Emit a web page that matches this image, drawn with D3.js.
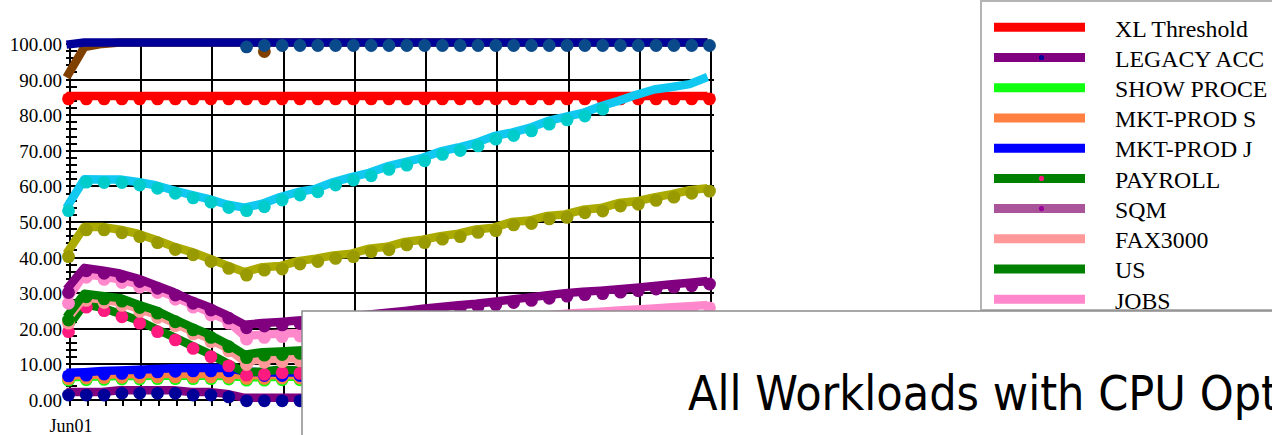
<!DOCTYPE html>
<html>
<head>
<meta charset="utf-8">
<script src="https://cdn.jsdelivr.net/npm/d3@7/dist/d3.min.js"></script>
<style>
  html, body { margin: 0; padding: 0; background: #fff; }
  svg { display: block; }
</style>
</head>
<body>
<svg id="chart" width="1272" height="435"></svg>
<script>
// ---- data -------------------------------------------------------------
const dayCount = 37;                 // Jun01 .. Jul07, one point per day
const xTickLabels = ["Jun01"];       // only the first day is labelled
const yTickValues = [0, 10, 20, 30, 40, 50, 60, 70, 80, 90, 100];
const chartTitle = "All Workloads with CPU Opt";

const legendNames = ["XL Threshold", "LEGACY ACC", "SHOW PROCE", "MKT-PROD S", "MKT-PROD J",
                     "PAYROLL", "SQM", "FAX3000", "US", "JOBS"];

const xlThreshold = [85, 85, 85, 85, 85, 85, 85, 85, 85, 85, 85, 85, 85, 85, 85, 85, 85, 85, 85,
                     85, 85, 85, 85, 85, 85, 85, 85, 85, 85, 85, 85, 85, 85, 85, 85, 85, 85];
const legacyAcc = [1.8, 1.8, 1.8, 2.3, 2.3, 2.3, 2.3, 1.8, 1.8, 1.3, 0.2, 0.2, 0.2, 0.2, 0.2];
const showProce = [6.0, 6.1, 6.2, 6.3, 6.3, 6.4, 6.4, 6.4, 6.4, 6.3, 6.0, 6.0, 6.1, 6.1, 6.1];
const mktProdS  = [6.4, 6.6, 6.7, 6.8, 6.8, 6.9, 6.9, 6.9, 6.9, 6.8, 6.5, 6.5, 6.6, 6.6, 6.6];
const mktProdJ  = [7.2, 7.4, 7.7, 7.9, 8.1, 8.3, 8.5, 8.6, 8.6, 8.6, 7.6, 7.3, 7.3, 7.3, 7.3];
const payroll   = [19.6, 26.5, 25.5, 23.8, 22.0, 19.6, 17.3, 14.9, 12.6, 10.0, 7.4, 7.6, 8.1, 7.9, 8.0];
const sqm       = [];
const fax3000   = [22.0, 28.4, 27.8, 27.0, 25.3, 23.6, 21.3, 19.0, 16.8, 14.2, 10.4, 11.0, 11.2, 11.4, 11.6];
const us        = [22.9, 29.4, 28.8, 28.2, 26.4, 24.8, 22.4, 20.1, 18.0, 15.4, 12.3, 13.0, 13.2, 13.5, 13.7];
const jobs      = [27.6, 34.9, 34.3, 33.4, 32.1, 30.6, 28.7, 26.5, 24.3, 22.0, 17.5, 18.0, 18.2, 18.4,
                   18.8, 19.2, 19.5, 19.9, 20.2, 20.6, 21.0, 21.3, 21.7, 22.0, 22.4, 22.7, 23.1, 23.4,
                   23.8, 24.1, 24.4, 24.7, 25.0, 25.3, 25.6, 25.9, 26.3];
// workloads whose legend rows fall outside the legend box
const purpleLoad = [30.6, 36.7, 36.0, 35.1, 33.7, 31.8, 29.9, 27.6, 25.7, 23.4, 20.7, 21.2, 21.5, 21.9,
                    22.2, 22.6, 23.1, 23.6, 24.1, 24.6, 25.2, 25.7, 26.2, 26.6, 27.2, 27.8, 28.4, 29.0,
                    29.6, 30.0, 30.3, 30.7, 31.1, 31.6, 32.1, 32.5, 33.0];
const oliveLoad = [40.7, 48.2, 48.2, 47.4, 46.3, 44.6, 42.7, 41.2, 39.3, 37.4, 35.5, 36.9, 37.2, 38.6,
                   39.3, 40.2, 40.7, 42.1, 42.6, 44.0, 44.6, 45.6, 46.3, 47.5, 48.0, 49.6, 50.0, 51.3,
                   51.7, 53.0, 53.5, 54.9, 55.4, 56.5, 57.4, 58.5, 59.1];
const cyanLoad = [53.6, 61.6, 61.5, 61.5, 60.8, 59.9, 58.5, 57.2, 56.0, 54.5, 53.6, 54.7, 56.6, 58.0,
                  58.9, 60.8, 62.2, 63.4, 65.2, 66.4, 67.6, 69.4, 70.5, 71.8, 73.7, 74.7, 76.0, 77.9,
                  79.1, 80.2, 82.1, 83.6, 85.3, 86.8, 87.5, 88.3, 90.3];
const cyanMeasured = [53.6, 61.6, 61.5, 61.5, 60.8, 59.9, 58.5, 57.2, 56.0, 54.5, 53.6, 54.7, 56.6, 58.0,
                      58.9, 60.8, 62.2, 63.4, 65.2, 66.4, 67.6, 69.4, 70.5, 71.8, 73.7, 74.7, 76.0, 77.9,
                      79.1, 80.2, 82.1];
const brownLoad = [90.2, 98.7, 99.6, 100, 100, 100, 100, 100, 100, 100, 100, 100, 100, 100, 100, 100,
                   100, 100, 100, 100, 100, 100, 100, 100, 100, 100, 100, 100, 100, 100, 100, 100, 100,
                   100, 100, 100, 100];
const brownMeasured = [null, null, null, null, null, null, null, null, null, null, null, 98.3];
const navyLoad = [99.4, 100, 100, 100, 100, 100, 100, 100, 100, 100, 100, 100, 100, 100, 100, 100, 100,
                  100, 100, 100, 100, 100, 100, 100, 100, 100, 100, 100, 100, 100, 100, 100, 100, 100,
                  100, 100, 100];
const navyMeasured = [null, null, null, null, null, null, null, null, null, null, 99.6, 100, 100, 100,
                      100, 100, 100, 100, 100, 100, 100, 100, 100, 100, 100, 100, 100, 100, 100, 100,
                      100, 100, 100, 100, 100, 100, 100];

// ---- series styling (drawing order = list order) -------------------------
const series = [
  { name: "XL Threshold", line: xlThreshold, dots: xlThreshold, stroke: "#ff0000", fill: "#ff0000" },
  { name: "LEGACY ACC",   line: legacyAcc,   dots: legacyAcc,   stroke: "#800080", fill: "#000099" },
  { name: "SHOW PROCE",   line: showProce,   dots: showProce,   stroke: "#11ff11", fill: "#11ff11" },
  { name: "MKT-PROD S",   line: mktProdS,    dots: mktProdS,    stroke: "#ff8040", fill: "#ff8040" },
  { name: "MKT-PROD J",   line: mktProdJ,    dots: mktProdJ,    stroke: "#0000ff", fill: "#0000ff" },
  { name: "PAYROLL",      line: payroll,     dots: payroll,     stroke: "#008000", fill: "#ff1a80" },
  { name: "SQM",          line: sqm,         dots: sqm,         stroke: "#aa5599", fill: "#990099" },
  { name: "FAX3000",      line: fax3000,     dots: fax3000,     stroke: "#ff9999", fill: "#ff9999" },
  { name: "US",           line: us,          dots: us,          stroke: "#008000", fill: "#008000" },
  { name: "JOBS",         line: jobs,        dots: jobs,        stroke: "#ff88cc", fill: "#ff88cc" },
  { name: "purple",       line: purpleLoad,  dots: purpleLoad,  stroke: "#800080", fill: "#800080" },
  { name: "olive",        line: oliveLoad,   dots: oliveLoad,   stroke: "#aaaa00", fill: "#999900" },
  { name: "cyan",         line: cyanLoad,    dots: cyanMeasured, stroke: "#10c8f0", fill: "#00cccc" },
  { name: "brown",        line: brownLoad,   dots: brownMeasured, stroke: "#804000", fill: "#804000" },
  { name: "navy",         line: navyLoad,    dots: navyMeasured, stroke: "#000099", fill: "#0b4a8a" }
];

// ---- layout -----------------------------------------------------------
const svg = d3.select("#chart");
svg.append("rect").attr("width", 1272).attr("height", 435).attr("fill", "#fff");

const x = d3.scaleLinear().domain([0, dayCount - 1]).range([70, 711]);
const y = d3.scaleLinear().domain([0, 100]).range([400, 44]);
const serif = "'Liberation Serif', 'Times New Roman', Times, serif";

const grid = svg.append("g").attr("stroke", "#000").attr("shape-rendering", "crispEdges");

// vertical grid lines every fourth day
grid.selectAll("line.v").data(d3.range(0, dayCount, 4)).join("line")
  .attr("class", "v")
  .attr("x1", d => Math.round(x(d))).attr("x2", d => Math.round(x(d)))
  .attr("y1", y(100)).attr("y2", y(0))
  .attr("stroke-width", 2);

// horizontal grid lines at each labelled value
grid.selectAll("line.h").data(yTickValues).join("line")
  .attr("class", "h")
  .attr("x1", 66).attr("x2", 714)
  .attr("y1", d => Math.round(y(d))).attr("y2", d => Math.round(y(d)))
  .attr("stroke-width", 2);

// minor ticks on the value axis
grid.selectAll("line.my").data(d3.range(0, 101, 2).filter(d => d % 10 !== 0)).join("line")
  .attr("class", "my")
  .attr("x1", 66).attr("x2", 77)
  .attr("y1", d => Math.round(y(d))).attr("y2", d => Math.round(y(d)))
  .attr("stroke-width", 1.5);

// daily ticks under the time axis
grid.selectAll("line.mx").data(d3.range(dayCount)).join("line")
  .attr("class", "mx")
  .attr("x1", d => Math.round(x(d))).attr("x2", d => Math.round(x(d)))
  .attr("y1", y(0)).attr("y2", y(0) + 6)
  .attr("stroke-width", 1.5);

// axis labels
svg.append("g").selectAll("text").data(yTickValues).join("text")
  .attr("x", 62).attr("y", d => y(d) + 7)
  .attr("text-anchor", "end")
  .attr("font-family", serif).attr("font-size", 19).attr("fill", "#000")
  .text(d => d.toFixed(2));

svg.append("g").selectAll("text").data(xTickLabels).join("text")
  .attr("x", (d, i) => x(i) + 1).attr("y", 432)
  .attr("text-anchor", "middle")
  .attr("font-family", serif).attr("font-size", 18).attr("fill", "#000")
  .text(d => d);

// ---- series -----------------------------------------------------------
const lineGen = d3.line()
  .defined(d => d != null)
  .x((d, i) => x(i))
  .y(d => y(d));

const plot = svg.append("g");
series.forEach(s => {
  const g = plot.append("g");
  if (s.line.length) {
    g.append("path")
      .attr("transform", "translate(-3.5,-1.5)")
      .attr("d", lineGen(s.line))
      .attr("fill", "none")
      .attr("stroke", s.stroke)
      .attr("stroke-width", 8.5)
      .attr("stroke-linejoin", "round");
  }
  g.append("g").attr("transform", "translate(-1.5,1.5)")
    .selectAll("circle")
    .data(s.dots.map((v, i) => ({ v, i })).filter(d => d.v != null))
    .join("circle")
    .attr("cx", d => x(d.i))
    .attr("cy", d => y(d.v))
    .attr("r", 6.4)
    .attr("fill", s.fill);
});

// ---- legend -----------------------------------------------------------
const legend = svg.append("g");
legend.append("rect")
  .attr("x", 981).attr("y", 1).attr("width", 400).attr("height", 309)
  .attr("fill", "#fff").attr("stroke", "#b4b4b4").attr("stroke-width", 2);
const legendClip = svg.append("defs").append("clipPath").attr("id", "legend-clip");
legendClip.append("rect").attr("x", 982).attr("y", 2).attr("width", 400).attr("height", 307);

const rows = legend.append("g").attr("clip-path", "url(#legend-clip)")
  .selectAll("g").data(legendNames.map(n => series.find(s => s.name === n))).join("g")
  .attr("transform", (d, i) => `translate(0,${27.3 + i * 30.22})`);
rows.append("line")
  .attr("x1", 994).attr("x2", 1085).attr("y1", 0).attr("y2", 0)
  .attr("stroke", d => d.stroke).attr("stroke-width", 9);
rows.append("circle")
  .attr("cx", 1041.5).attr("cy", 0).attr("r", 2.6)
  .attr("fill", d => d.fill);
rows.append("text")
  .attr("x", 1115).attr("y", 9.3)
  .attr("font-family", serif).attr("font-size", 23.8).attr("fill", "#000")
  .text(d => d.name);

// ---- title panel --------------------------------------------------------
svg.append("rect")
  .attr("x", 302).attr("y", 311).attr("width", 1100).attr("height", 300)
  .attr("fill", "#fff").attr("stroke", "#8c8c8c").attr("stroke-width", 1.5);
svg.append("text")
  .attr("x", 688).attr("y", 410)
  .attr("font-family", "'DejaVu Sans Condensed', 'DejaVu Sans', sans-serif")
  .attr("font-stretch", "condensed")
  .attr("font-size", 48).attr("fill", "#000")
  .text(chartTitle);
</script>
</body>
</html>
